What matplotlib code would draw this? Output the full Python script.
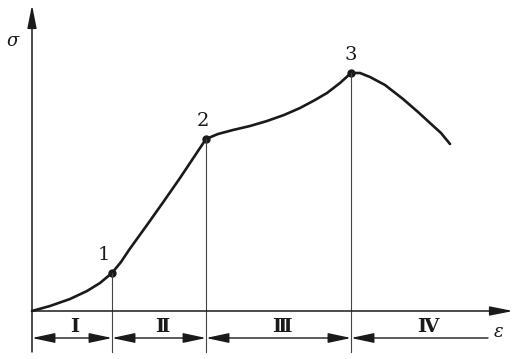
import matplotlib.pyplot as plt

# ---- DATA (strain eps, stress sigma) ----
eps = [0, 18, 38, 55, 68, 80,
       89, 97, 115, 132, 148, 162, 174,
       186, 201, 218, 235, 252, 268, 283, 295, 308, 319,
       328, 338, 353, 371, 386, 398, 409, 418]
sig = [0, 5, 12, 20, 28, 38,
       49, 61, 86, 110, 133, 154, 172,
       177, 181, 185, 190, 196, 203, 211, 218, 228, 238,
       238, 234, 226, 212, 199, 188, 178, 167]

key_eps = [80, 174, 319]
key_sig = [38, 172, 238]
key_labels = ["1", "2", "3"]

stage_edges = [0, 80, 174, 319, 456]
stage_labels = ["I", "Ⅱ", "Ⅲ", "Ⅳ"]

# ---- FIGURE ----
fig = plt.figure(figsize=(5.22, 3.59), dpi=100)
ax = fig.add_axes([0, 0, 1, 1])
ax.set_xlim(-32, 490)
ax.set_ylim(-48, 311)
ax.axis("off")

ink = "#1a1a1a"
y_bot = -41      # bottom of the drop lines
y_dim = -27      # dimension line level

axis_head = "-|>,head_length=1.4,head_width=0.28"
ax.annotate("", xy=(0, 306), xytext=(0, y_bot),
            arrowprops=dict(arrowstyle=axis_head, color=ink, lw=1.1,
                            mutation_scale=10, shrinkA=0, shrinkB=0))
ax.annotate("", xy=(481, 0), xytext=(0, 0),
            arrowprops=dict(arrowstyle=axis_head, color=ink, lw=1.1,
                            mutation_scale=10, shrinkA=0, shrinkB=0))

# stress-strain curve
ax.plot(eps, sig, color=ink, lw=1.9, solid_capstyle="round",
        solid_joinstyle="round")
ax.plot(key_eps, key_sig, "o", color=ink, ms=5)

# drop lines
for e, s in zip(key_eps, key_sig):
    ax.plot([e, e], [y_bot, s], color="#444444", lw=0.8)

for e, s, lab in zip(key_eps, key_sig, key_labels):
    dx = -8 if lab == "1" else (-3 if lab == "2" else 0)
    ax.text(e + dx, s + 9, lab, ha="center", va="bottom",
            fontsize=14, family="DejaVu Serif", color=ink)

# stage dimension arrows (last one only points back to point 3)
for i, lab in enumerate(stage_labels):
    a, b = stage_edges[i], stage_edges[i + 1]
    style = ("<|-|>" if i < 3 else "-|>") + ",head_length=1.4,head_width=0.3"
    ax.annotate("", xy=(a, y_dim), xytext=(b, y_dim),
                arrowprops=dict(arrowstyle=style, color=ink, lw=1.0,
                                mutation_scale=10, shrinkA=0, shrinkB=0))
    ax.text((a + b) / 2 + 3 if i < 3 else 396, -16, lab, ha="center",
            va="center", fontsize=14, fontweight="bold",
            family="DejaVu Serif", color=ink)

ax.text(-19, 270, "σ", ha="center", va="center", fontsize=13,
        style="italic", family="DejaVu Serif", color=ink)
ax.text(467, -21, "ε", ha="center", va="center", fontsize=13,
        style="italic", family="DejaVu Serif", color=ink)

plt.savefig("out.png", dpi=100)
